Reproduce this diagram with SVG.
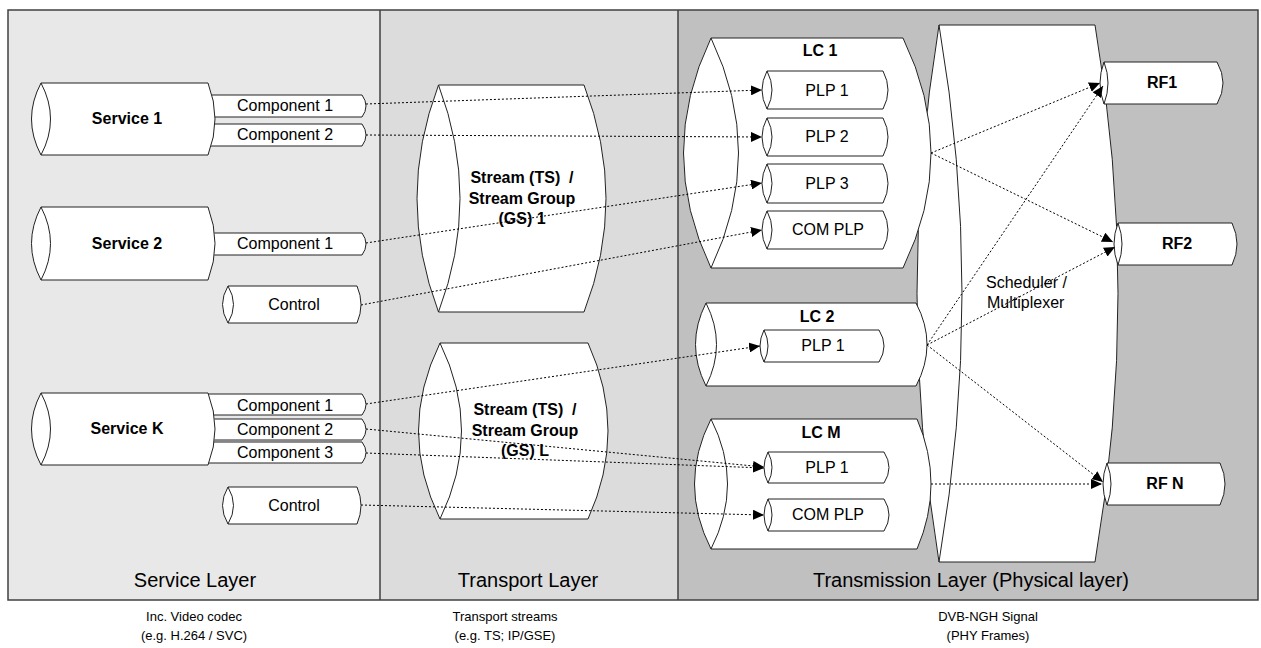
<svg xmlns="http://www.w3.org/2000/svg" width="1261" height="648" viewBox="0 0 1261 648">
<defs>
<marker id="ah" markerUnits="userSpaceOnUse" markerWidth="12" markerHeight="10" refX="11" refY="5" orient="auto">
<path d="M0,0 L11,5 L0,10 Z" fill="#000"/>
</marker>
<style>
.n{fill:#fff;stroke:#222;stroke-width:1}
.i{fill:none;stroke:#222;stroke-width:1}
.t{font-family:"Liberation Sans",Arial,sans-serif;font-size:16px;fill:#000;text-anchor:middle}
.b{font-weight:bold}
.L{font-family:"Liberation Sans",Arial,sans-serif;font-size:20px;fill:#000;text-anchor:middle}
.c{font-family:"Liberation Sans",Arial,sans-serif;font-size:13px;fill:#000;text-anchor:middle}
.e{fill:none;stroke:#000;stroke-width:1;stroke-dasharray:2,2;marker-end:url(#ah)}
</style>
</defs>
<rect x="0" y="0" width="1261" height="648" fill="#fff"/>
<g id="layers">
<rect x="8" y="10" width="372" height="590" fill="#E8E8E8"/>
<rect x="380" y="10" width="298" height="590" fill="#DCDCDC"/>
<rect x="678" y="10" width="580" height="590" fill="#C0C0C0"/>
<rect x="8" y="10" width="1250" height="590" fill="none" stroke="#404040" stroke-width="1.5"/>
<line x1="380" y1="10" x2="380" y2="600" stroke="#404040" stroke-width="1.5"/>
<line x1="678" y1="10" x2="678" y2="600" stroke="#404040" stroke-width="1.5"/>
<text class="L" x="195" y="587">Service Layer</text>
<text class="L" x="528" y="587">Transport Layer</text>
<text class="L" x="971" y="587">Transmission Layer (Physical layer)</text>
<text class="c" x="194" y="621">Inc. Video codec</text>
<text class="c" x="194" y="640">(e.g. H.264 / SVC)</text>
<text class="c" x="505" y="621">Transport streams</text>
<text class="c" x="505" y="640">(e.g. TS; IP/GSE)</text>
<text class="c" x="988" y="621">DVB-NGH Signal</text>
<text class="c" x="988" y="640">(PHY Frames)</text>
</g>
<g id="scheduler">
<path class="n" d="M939,25 L1095,25 Q1141,293.5 1095,562 L939,562 Q895,293.5 939,25 Z"/>
<path class="i" d="M939,25 Q985,293.5 939,562"/>
<text class="t" x="986" y="288" text-anchor="start" style="text-anchor:start">Scheduler /</text>
<text class="t" x="987" y="308" style="text-anchor:start">Multiplexer</text>
</g>
<g id="s1-comp1"><path class="n" d="M200,95 L362,95 Q370,106 362,117 L200,117 Z"/><text class="t" x="285" y="111">Component 1</text></g>
<g id="s1-comp2"><path class="n" d="M200,124 L362,124 Q370,135 362,146 L200,146 Z"/><text class="t" x="285" y="140">Component 2</text></g>
<g id="service1"><path class="n" d="M41,83 L208,83 Q222,119 208,155 L41,155 Q22,119 41,83 Z"/><path class="i" d="M41,83 Q60,119 41,155"/><text class="t b" x="127" y="124">Service 1</text></g>
<g id="s2-comp1"><path class="n" d="M200,233 L362,233 Q370,244 362,255 L200,255 Z"/><text class="t" x="285" y="249">Component 1</text></g>
<g id="service2"><path class="n" d="M41,207 L208,207 Q222,243.5 208,280 L41,280 Q22,243.5 41,207 Z"/><path class="i" d="M41,207 Q60,243.5 41,280"/><text class="t b" x="127" y="249">Service 2</text></g>
<g id="s2-control"><path class="n" d="M228,286 L357,286 Q365,304.5 357,323 L228,323 Q217,304.5 228,286 Z"/><path class="i" d="M228,286 Q239,304.5 228,323"/><text class="t" x="294" y="310">Control</text></g>
<g id="sk-comp1"><path class="n" d="M200,394 L362,394 Q370,404.5 362,415 L200,415 Z"/><text class="t" x="285" y="411">Component 1</text></g>
<g id="sk-comp2"><path class="n" d="M200,419 L362,419 Q370,429.5 362,440 L200,440 Z"/><text class="t" x="285" y="435">Component 2</text></g>
<g id="sk-comp3"><path class="n" d="M200,442 L362,442 Q370,452.5 362,463 L200,463 Z"/><text class="t" x="285" y="458">Component 3</text></g>
<g id="serviceK"><path class="n" d="M41,393 L208,393 Q222,429 208,465 L41,465 Q22,429 41,393 Z"/><path class="i" d="M41,393 Q60,429 41,465"/><text class="t b" x="127" y="434">Service K</text></g>
<g id="sk-control"><path class="n" d="M228,487 L357,487 Q365,505.5 357,524 L228,524 Q217,505.5 228,487 Z"/><path class="i" d="M228,487 Q239,505.5 228,524"/><text class="t" x="294" y="511">Control</text></g>
<g id="stream1"><path class="n" d="M438.5,85 L584,85 Q628,198.5 584,312 L438.5,312 Q395.5,198.5 438.5,85 Z"/><path class="i" d="M438.5,85 Q481.5,198.5 438.5,312"/>
<text class="t b" x="522" y="183">Stream (TS)&#160; /</text><text class="t b" x="522" y="204">Stream Group</text><text class="t b" x="522" y="224">(GS) 1</text></g>
<g id="streamL"><path class="n" d="M440,343 L588,343 Q628,431 588,519 L440,519 Q397,431 440,343 Z"/><path class="i" d="M440,343 Q483,431 440,519"/>
<text class="t b" x="525" y="415">Stream (TS)&#160; /</text><text class="t b" x="525" y="436">Stream Group</text><text class="t b" x="525" y="456">(GS) L</text></g>
<g id="lc1"><path class="n" d="M711,38 L903,38 Q959,153 903,268 L711,268 Q656,153 711,38 Z"/><path class="i" d="M711,38 Q766,153 711,268"/><text class="t b" x="820" y="56">LC 1</text></g>
<g id="lc1-plp1"><path class="n" d="M767,71 L883,71 Q893,90 883,109 L767,109 Q757,90 767,71 Z"/><path class="i" d="M767,71 Q777,90 767,109"/><text class="t" x="827" y="96">PLP 1</text></g>
<g id="lc1-plp2"><path class="n" d="M767,118 L883,118 Q893,137 883,156 L767,156 Q757,137 767,118 Z"/><path class="i" d="M767,118 Q777,137 767,156"/><text class="t" x="827" y="142">PLP 2</text></g>
<g id="lc1-plp3"><path class="n" d="M767,164 L883,164 Q893,183.5 883,203 L767,203 Q757,183.5 767,164 Z"/><path class="i" d="M767,164 Q777,183.5 767,203"/><text class="t" x="827" y="189">PLP 3</text></g>
<g id="lc1-com"><path class="n" d="M767,211 L883,211 Q893,230 883,249 L767,249 Q757,230 767,211 Z"/><path class="i" d="M767,211 Q777,230 767,249"/><text class="t" x="828" y="235">COM PLP</text></g>
<g id="lc2"><path class="n" d="M706,303 L916,303 Q938,344.5 916,386 L706,386 Q685,344.5 706,303 Z"/><path class="i" d="M706,303 Q727,344.5 706,386"/><text class="t b" x="817" y="322">LC 2</text></g>
<g id="lc2-plp1"><path class="n" d="M764,330 L879,330 Q889,346 879,362 L764,362 Q756,346 764,330 Z"/><path class="i" d="M764,330 Q772,346 764,362"/><text class="t" x="823" y="351">PLP 1</text></g>
<g id="lcm"><path class="n" d="M711,419 L917,419 Q945,484 917,549 L711,549 Q678,484 711,419 Z"/><path class="i" d="M711,419 Q744,484 711,549"/><text class="t b" x="821" y="438">LC M</text></g>
<g id="lcm-plp1"><path class="n" d="M768,452 L884,452 Q894,467.5 884,483 L768,483 Q760,467.5 768,452 Z"/><path class="i" d="M768,452 Q776,467.5 768,483"/><text class="t" x="827" y="473">PLP 1</text></g>
<g id="lcm-com"><path class="n" d="M768,499 L884,499 Q894,515 884,531 L768,531 Q760,515 768,499 Z"/><path class="i" d="M768,499 Q776,515 768,531"/><text class="t" x="828" y="520">COM PLP</text></g>
<g id="rf1"><path class="n" d="M1104,62 L1217,62 Q1229,83 1217,104 L1104,104 Q1096,83 1104,62 Z"/><path class="i" d="M1104,62 Q1112,83 1104,104"/><text class="t b" x="1162" y="88">RF1</text></g>
<g id="rf2"><path class="n" d="M1118,223 L1232,223 Q1242,244 1232,265 L1118,265 Q1110,244 1118,223 Z"/><path class="i" d="M1118,223 Q1126,244 1118,265"/><text class="t b" x="1177" y="249">RF2</text></g>
<g id="rfn"><path class="n" d="M1107,463 L1220,463 Q1230,484 1220,505 L1107,505 Q1099,484 1107,463 Z"/><path class="i" d="M1107,463 Q1115,484 1107,505"/><text class="t b" x="1165" y="489">RF N</text></g>
<g id="connectors">
<line class="e" x1="366" y1="104" x2="762" y2="90"/>
<line class="e" x1="366" y1="135" x2="762" y2="137"/>
<line class="e" x1="366" y1="243" x2="762" y2="183"/>
<line class="e" x1="361" y1="305" x2="762" y2="230"/>
<line class="e" x1="366" y1="404" x2="760" y2="346"/>
<line class="e" x1="366" y1="429" x2="764" y2="467"/>
<line class="e" x1="366" y1="453" x2="764" y2="468"/>
<line class="e" x1="361" y1="505" x2="764" y2="515"/>
<line class="e" x1="931" y1="153" x2="1100" y2="83"/>
<line class="e" x1="931" y1="153" x2="1113" y2="242"/>
<line class="e" x1="927" y1="345" x2="1103" y2="86"/>
<line class="e" x1="927" y1="345" x2="1115" y2="247"/>
<line class="e" x1="927" y1="345" x2="1103" y2="482"/>
<line class="e" x1="931" y1="484" x2="1102" y2="484"/>
</g>
</svg>
